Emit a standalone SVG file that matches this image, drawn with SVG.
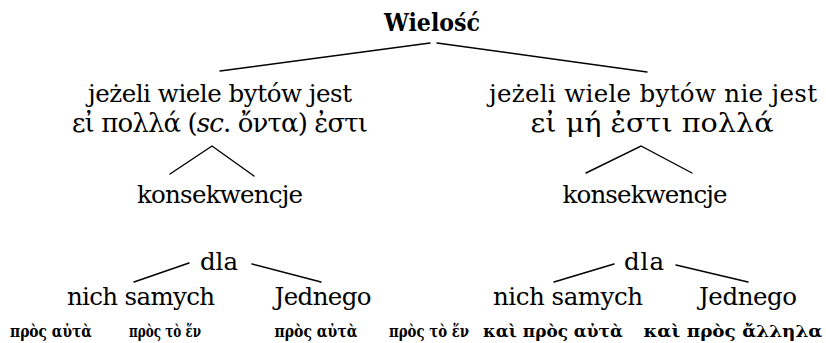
<svg xmlns="http://www.w3.org/2000/svg" width="826" height="343" viewBox="0 0 826 343">
  <style>
    .t { font-family: "DejaVu Serif", "Liberation Serif", serif; font-size: 24.5px; fill: #000; text-anchor: middle; }
    .b { font-weight: bold; font-size: 25px; }
    .gr { font-family: "DejaVu Serif", "Liberation Serif", serif; font-size: 26px; fill: #000; text-anchor: middle; }
    .g { font-family: "DejaVu Serif", "Liberation Serif", serif; font-size: 16px; font-weight: bold; fill: #000; text-anchor: middle; }
    .e { stroke: #000; stroke-width: 1.4; fill: none; stroke-linecap: round; }
  </style>
  <rect width="826" height="343" fill="#fff"/>

  <!-- connectors -->
  <g id="connectors" class="e">
    <line x1="430" y1="43" x2="220" y2="71"/>
    <line x1="437" y1="43" x2="647" y2="72"/>
    <polyline points="170,174 212,146 254,176"/>
    <polyline points="586,173 641,146 692,173"/>
    <line x1="189" y1="263" x2="134" y2="282"/>
    <line x1="252" y1="264" x2="321" y2="282"/>
    <line x1="614" y1="264" x2="554" y2="282"/>
    <line x1="676" y1="265" x2="748" y2="282"/>
  </g>

  <g id="root">
    <text class="t b" x="432" y="31" textLength="96" lengthAdjust="spacingAndGlyphs">Wielość</text>
  </g>

  <g id="branch-left">
    <text class="t" x="220" y="102" textLength="264">jeżeli wiele bytów jest</text>
    <text class="gr" x="220" y="132" textLength="296">εἰ πολλά (<tspan font-style="italic">sc</tspan>. ὄντα) ἐστι</text>
  </g>
  <g id="branch-right">
    <text class="t" x="653" y="102" textLength="328">jeżeli wiele bytów nie jest</text>
    <text class="gr" x="652" y="132" font-size="27" textLength="243" lengthAdjust="spacingAndGlyphs">εἰ μή ἐστι πολλά</text>
  </g>

  <g id="cons-left">
    <text class="t" x="220" y="203" textLength="166">konsekwencje</text>
  </g>
  <g id="cons-right">
    <text class="t" x="645" y="203" textLength="165">konsekwencje</text>
  </g>

  <g id="dla-left">
    <text class="t" x="219" y="270" textLength="38">dla</text>
  </g>
  <g id="dla-right">
    <text class="t" x="644" y="270" textLength="40">dla</text>
  </g>

  <g id="self-left">
    <text class="t" x="141" y="305" textLength="148">nich samych</text>
  </g>
  <g id="one-left">
    <text class="t" x="323" y="305" textLength="97">Jednego</text>
  </g>
  <g id="self-right">
    <text class="t" x="568" y="305" textLength="150">nich samych</text>
  </g>
  <g id="one-right">
    <text class="t" x="748" y="305" textLength="98">Jednego</text>
  </g>

  <g id="leaf-1"><text class="g" x="51" y="337" textLength="82" lengthAdjust="spacingAndGlyphs">πρὸς αὐτὰ</text></g>
  <g id="leaf-2"><text class="g" x="165" y="337" textLength="72" lengthAdjust="spacingAndGlyphs">πρὸς τὸ ἕν</text></g>
  <g id="leaf-3"><text class="g" x="316" y="337" textLength="83" lengthAdjust="spacingAndGlyphs">πρὸς αὐτὰ</text></g>
  <g id="leaf-4"><text class="g" x="429" y="337" textLength="80" lengthAdjust="spacingAndGlyphs">πρὸς τὸ ἕν</text></g>
  <g id="leaf-5"><text class="g" x="553" y="337" textLength="140" lengthAdjust="spacingAndGlyphs">καὶ πρὸς αὐτὰ</text></g>
  <g id="leaf-6"><text class="g" x="733" y="337" textLength="179" lengthAdjust="spacingAndGlyphs">καὶ πρὸς ἄλληλα</text></g>
</svg>
